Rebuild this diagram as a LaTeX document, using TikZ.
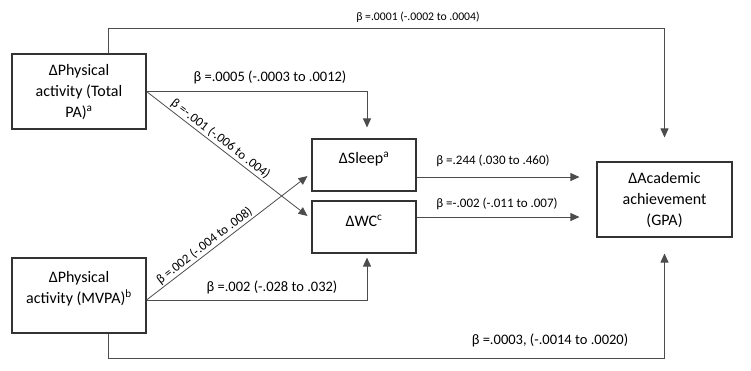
\documentclass[tikz,border=0pt]{standalone}
\usepackage{fontspec}
\setmainfont{Carlito}
\usetikzlibrary{arrows.meta}
\begin{document}
\begin{tikzpicture}[x=1pt,y=-1pt,
  box/.style={draw=black!80,line width=1.1pt,inner sep=0pt},
  btext/.style={align=center,font=\fontsize{16}{21}\selectfont,inner sep=0pt},
  lab/.style={font=\fontsize{13}{15}\selectfont,inner sep=1pt},
  biglab/.style={font=\fontsize{14.5}{16}\selectfont,inner sep=1pt},
  toplab/.style={font=\fontsize{11.7}{14}\selectfont,inner sep=1pt},
  conn/.style={draw=black!70,line width=0.8pt,-{Triangle[length=9pt,width=8pt]}},
  plain/.style={draw=black!70,line width=0.8pt}]
\useasboundingbox (0,0) rectangle (751,370);
% boxes
\node[box,minimum width=134pt,minimum height=75pt] (A) at (79,91.5) {};
\node[box,minimum width=134pt,minimum height=75pt] (B) at (79,295.5) {};
\node[box,minimum width=104pt,minimum height=52pt] (S) at (364,165) {};
\node[box,minimum width=104pt,minimum height=52pt] (W) at (364,227) {};
\node[box,minimum width=135pt,minimum height=75pt] (G) at (664.5,199.5) {};
% box texts
\node[btext] (At) at (79,92) {ΔPhysical\\activity (Total\\PA)\textsuperscript{a}};
\node[btext] (Bt) at (79,289) {ΔPhysical\\activity (MVPA)\textsuperscript{b}};
\node[btext] (St) at (364,159) {ΔSleep\textsuperscript{a}};
\node[btext] (Wt) at (364,221) {ΔWC\textsuperscript{c}};
\node[btext] (Gt) at (664.5,200) {ΔAcademic\\achievement\\(GPA)};
% helper coordinates
\coordinate (t1) at (108,28);
\coordinate (t2) at (664.5,28);
\coordinate (b1) at (108,358);
\coordinate (aout) at ([yshift=0pt]A.east);
\coordinate (bout) at ([yshift=-4.5pt]B.east);
\coordinate (sout) at ([yshift=-12pt]S.east);
\coordinate (wout) at ([yshift=10pt]W.east);
\coordinate (win) at ([yshift=8pt]W.west);
\coordinate (sin) at ([yshift=-8pt]S.west);
\coordinate (sna) at ([xshift=3pt]S.north);
\coordinate (wsa) at ([xshift=3pt]W.south);
% connectors
\draw[plain] (A.north -| t1) -- (t1) -- (t2);
\draw[conn,shorten >=24pt] (t2) -- (G.north);
\draw[conn,shorten >=11pt] (aout) -| (sna);
\draw[conn,shorten >=5pt] (aout) -- node[sloped,above,pos=0.42,lab,inner sep=1.5pt] (lAW) {β =-.001 (-.006 to .004)} (win);
\draw[conn,shorten >=5pt] (bout) -- node[sloped,above,pos=0.38,lab,inner sep=1.5pt] (lBS) {β =.002 (-.004 to .008)} (sin);
\draw[conn,shorten >=4pt] (bout) -| (wsa);
\draw[plain] (B.south -| b1) -- (b1);
\draw[conn,shorten >=16pt] (b1) -| (G.south);
\draw[conn,shorten >=17pt] (sout) -- (sout -| G.west);
\draw[conn,shorten >=17pt] (wout) -- (wout -| G.west);
% labels
\node[toplab] (l0) at (418,17) {β =.0001 (-.0002 to .0004)};
\node[biglab] (lAS) at (270,77) {β =.0005 (-.0003 to .0012)};
\node[biglab] (lBW) at (272,287) {β =.002 (-.028 to .032)};
\node[biglab] (lBG) at (550,340) {β =.0003, (-.0014 to .0020)};
\node[lab] (lSG) at (493,161) {β =.244 (.030 to .460)};
\node[lab] (lWG) at (497,204) {β =-.002 (-.011 to .007)};
\end{tikzpicture}
\end{document}
